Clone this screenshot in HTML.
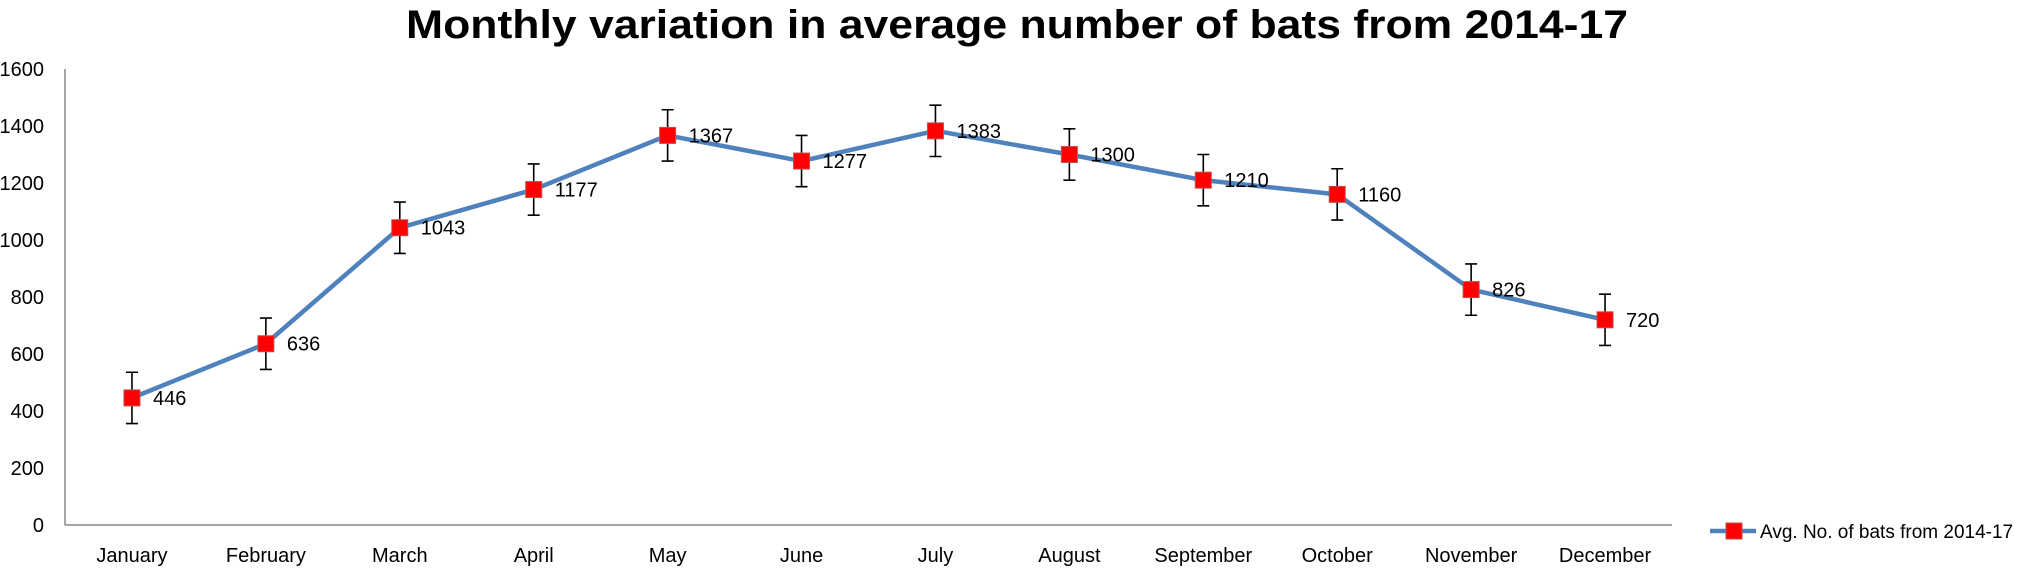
<!DOCTYPE html>
<html><head><meta charset="utf-8"><style>
html,body{margin:0;padding:0;background:#fff;}
svg{display:block;font-family:"Liberation Sans",sans-serif;}
</style></head><body>
<svg id="chart" width="2032" height="569" viewBox="0 0 2032 569">
<text x="1017" y="38" text-anchor="middle" font-size="40" font-weight="bold" textLength="1222" lengthAdjust="spacingAndGlyphs" fill="#000">Monthly variation in average number of bats from 2014-17</text>
<g id="axes"></g>
<g id="series"></g>
<g>
<line x1="1710" y1="531" x2="1756" y2="531" stroke="#4F81BD" stroke-width="4.5"/>
<rect x="1726" y="523" width="16" height="16" fill="#FF0000" stroke="#C0504D" stroke-width="1"/>
<text x="1760" y="538" font-size="19" fill="#000">Avg. No. of bats from 2014-17</text>
</g>
</svg>
<script>
const months = ["January","February","March","April","May","June","July","August","September","October","November","December"];
const values = [446,636,1043,1177,1367,1277,1383,1300,1210,1160,826,720];
const errors = [90,90,90,90,90,90,90,90,90,90,90,90];
const yTicks = [0,200,400,600,800,1000,1200,1400,1600];

const NS = "http://www.w3.org/2000/svg";
const plotLeft = 65, plotRight = 1672, plotTop = 69, plotBottom = 525;
const yMax = 1600;
const band = (plotRight - plotLeft) / months.length;
function xPos(i){ return plotLeft + band * (i + 0.5); }
function yPos(v){ return plotBottom - (v / yMax) * (plotBottom - plotTop); }
function mk(tag, attrs, parent){
  const e = document.createElementNS(NS, tag);
  for (const k in attrs) e.setAttribute(k, attrs[k]);
  parent.appendChild(e);
  return e;
}
const axesG = document.getElementById("axes");
const seriesG = document.getElementById("series");

const ya = mk("line", {x1:plotLeft, y1:plotTop, x2:plotLeft, y2:plotBottom, stroke:"#888", "stroke-width":1.5}, axesG);


const xa = mk("line", {x1:plotLeft, y1:plotBottom, x2:plotRight, y2:plotBottom, stroke:"#888", "stroke-width":1.5}, axesG);



yTicks.forEach(t => {
  const tx = mk("text", {x:44, y:yPos(t)+7, "text-anchor":"end", "font-size":20, fill:"#000"}, axesG);
  tx.textContent = t;
  
  
});
months.forEach((m, i) => {
  const tx = mk("text", {x:xPos(i), y:562, "text-anchor":"middle", "font-size":20, fill:"#000"}, axesG);
  tx.textContent = m;
  
  
});

const pts = values.map((v, i) => xPos(i) + "," + yPos(v)).join(" ");
const line = mk("polyline", {points:pts, fill:"none", stroke:"#4F81BD", "stroke-width":4.5, "stroke-linejoin":"round"}, seriesG);



values.forEach((v, i) => {
  const x = xPos(i), y = yPos(v);
  const y1 = yPos(v + errors[i]), y2 = yPos(v - errors[i]);
  const eb = mk("path", {d:`M${x},${y1}V${y2}M${x-6},${y1}H${x+6}M${x-6},${y2}H${x+6}`, stroke:"#000", "stroke-width":1.6, fill:"none"}, seriesG);
  
  
  const r = mk("rect", {x:x-8, y:y-8, width:16, height:16, fill:"#FF0000", stroke:"#C0504D", "stroke-width":1}, seriesG);
  
  
  const tx = mk("text", {x:x+21, y:y+7, "font-size":20, fill:"#000"}, seriesG);
  tx.textContent = v;
  
  
});
</script>
</body></html>
